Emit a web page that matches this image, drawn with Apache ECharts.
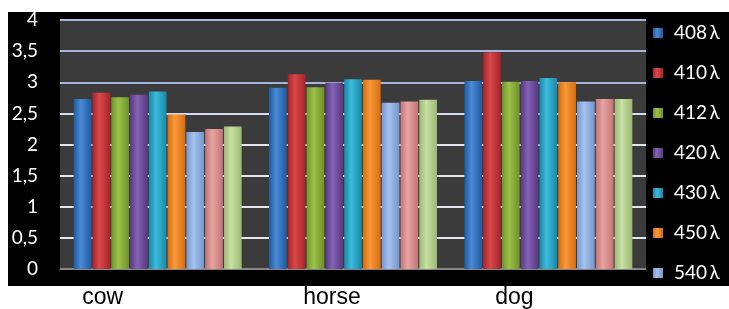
<!DOCTYPE html>
<html>
<head>
<meta charset="utf-8">
<script src="https://cdn.jsdelivr.net/npm/echarts@6/dist/echarts.min.js"></script>
<style>
  html, body { margin: 0; padding: 0; background: #fff; }
  #chart { width: 729px; height: 309px; }
</style>
</head>
<body>
<div id="chart"></div>
<script>
const categories = ['cow', 'horse', 'dog']
const seriesNames = ['408\u2009λ', '410\u2009λ', '412\u2009λ', '420\u2009λ', '430\u2009λ', '450\u2009λ', '540\u2009λ', '560\u2009λ', '580\u2009λ']
const legendNames = seriesNames.slice(0, 7)
const values = [
  [2.73, 2.91, 3.02],
  [2.83, 3.13, 3.48],
  [2.76, 2.92, 3.01],
  [2.80, 2.99, 3.02],
  [2.85, 3.05, 3.07],
  [2.48, 3.04, 3.00],
  [2.20, 2.67, 2.69],
  [2.25, 2.69, 2.73],
  [2.29, 2.72, 2.73],
]
const yTicks = [0, 0.5, 1, 1.5, 2, 2.5, 3, 3.5, 4]

const colors = [
  ['#1f5a9e', '#4a8ad6'],
  ['#a5242a', '#d9484a'],
  ['#6f9228', '#9cc24a'],
  ['#56397f', '#8462b4'],
  ['#1a87a6', '#3cbbdc'],
  ['#d66d10', '#f9993a'],
  ['#7497cc', '#a6c2ee'],
  ['#c47474', '#e8a4a4'],
  ['#9cb874', '#c8e0a4'],
]
// 标签偏移（原图中类目文字并不居中）
const labelShift = { cow: 55, horse: 21, dog: 34 }

function barColor(pair) {
  return new echarts.graphic.LinearGradient(0, 0, 1, 0, [
    { offset: 0, color: pair[0] },
    { offset: 0.4, color: pair[1] },
    { offset: 1, color: pair[0] },
  ])
}

const series = values.map((item, i) => ({
  name: seriesNames[i],
  type: 'bar',
  data: item,
  barGap: '6%',
  barCategoryGap: '14%',
  itemStyle: { color: barColor(colors[i]) },
}))

const rich = {}
categories.forEach(c => {
  rich[c] = {
    fontFamily: 'Liberation Sans, Arial',
    fontSize: 23,
    color: '#000',
    padding: [0, labelShift[c] * 2, 0, 0],
  }
})

const option = {
  backgroundColor: '#fff',
  animation: false,
  graphic: [{
    type: 'rect',
    z: -10,
    shape: { x: 8, y: 12, width: 721, height: 274 },
    style: { fill: '#000' },
  }],
  grid: {
    left: 60,
    right: 83,
    top: 20,
    bottom: 34,
    show: true,
    backgroundColor: '#3b3b3b',
    borderWidth: 0,
  },
  legend: {
    data: legendNames,
    orient: 'vertical',
    left: 648,
    top: 18,
    itemWidth: 10,
    itemHeight: 10,
    itemGap: 20,
    icon: 'rect',
    textStyle: {
      color: '#fff',
      fontFamily: 'Lato',
      fontSize: 19,
      lineHeight: 20,
      padding: [0, 0, 0, 6],
    },
  },
  xAxis: {
    type: 'category',
    data: categories,
    axisLine: { lineStyle: { color: '#888' } },
    axisTick: { show: false },
    axisLabel: {
      margin: 17,
      formatter: v => `{${v}|${v}}`,
      rich,
    },
  },
  yAxis: {
    type: 'value',
    min: yTicks[0],
    max: yTicks[yTicks.length - 1],
    interval: 0.5,
    axisLabel: {
      color: '#fff',
      fontFamily: 'Lato',
      fontSize: 19,
      margin: 22,
      formatter: v => String(v).replace('.', ','),
    },
    splitLine: {
      lineStyle: {
        color: ['#888', '#e4e6ee', '#e4e6ee', '#e4e6ee', '#e4e6ee', '#d4dcee', '#a4b6da', '#a4b6da', '#a4b6da'],
        width: 2,
      },
    },
  },
  series,
}

const myChart = echarts.init(document.getElementById('chart'))
myChart.setOption(option)
</script>
</body>
</html>
